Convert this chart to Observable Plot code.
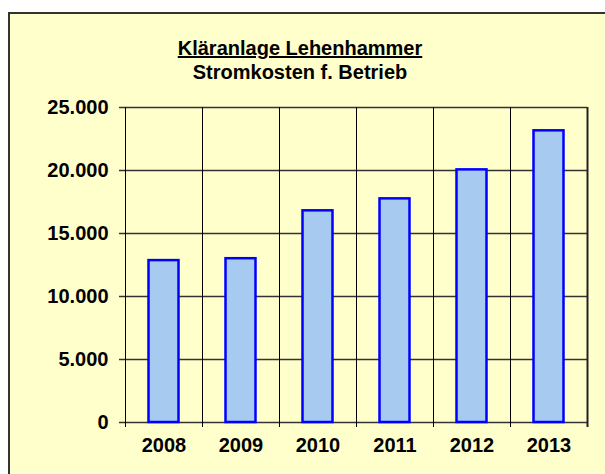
<!DOCTYPE html>
<html>
<head>
<meta charset="utf-8">
<script src="https://cdn.jsdelivr.net/npm/d3@7"></script>
<script src="https://cdn.jsdelivr.net/npm/@observablehq/plot@0.6"></script>
<style>
  html, body { margin: 0; padding: 0; background: #ffffff; }
  #wrap { position: relative; width: 605px; height: 474px; overflow: hidden; font-family: "Liberation Sans", Arial, sans-serif; }
  #panel { position: absolute; left: 8px; top: 12px; width: 640px; height: 500px; background: #FFFFCC; border-left: 2px solid #333; border-top: 2px solid #333; }
  #title { position: absolute; left: 0; width: 600px; top: 36px; text-align: center; font-weight: bold; font-size: 20px; line-height: 24px; color: #000; }
  #title .l1 { text-decoration: underline; }
  #chart { position: absolute; left: 0; top: 0; }
</style>
</head>
<body>
<div id="wrap">
  <div id="panel"></div>
  <div id="title"><div class="l1">Kläranlage Lehenhammer</div><div>Stromkosten f. Betrieb</div></div>
  <div id="chart"></div>
</div>
<script>
const years = ["2008", "2009", "2010", "2011", "2012", "2013"];
const costs = [12850, 13000, 16800, 17750, 20050, 23150];
const yTicks = [0, 5000, 10000, 15000, 20000, 25000];

const data = years.map((y, i) => ({year: y, cost: costs[i]}));
const de = d3.formatLocale({decimal: ",", thousands: ".", grouping: [3], currency: ["", " €"]});
const fmt = de.format(",d");

const W = 605, H = 474, mL = 125, mR = 18, mT = 107, mB = 52;
const step = (W - mL - mR) / years.length;

const chart = Plot.plot({
  width: W,
  height: H,
  marginLeft: mL,
  marginRight: mR,
  marginTop: mT,
  marginBottom: mB,
  style: {background: "transparent", fontFamily: "'Liberation Sans', Arial, sans-serif", fontSize: "20px", fontWeight: "bold", color: "#000", overflow: "visible"},
  x: {domain: years, padding: 0, label: null},
  y: {domain: [0, 25000], label: null},
  marks: [
    Plot.ruleY(yTicks, {y: d => d, stroke: "#333", strokeWidth: 1.3, insetLeft: -6}),
    Plot.tickX(years, {x: d => d, dx: -step / 2, stroke: "#000", strokeWidth: 1, insetBottom: -5}),
    Plot.tickX(years.slice(-1), {x: d => d, dx: step / 2, stroke: "#222", strokeWidth: 2, insetBottom: -5}),
    Plot.barY(data, {x: "year", y: "cost", fill: "#A6CAF0", stroke: "#0000FF", strokeWidth: 2.5, insetLeft: 23.5, insetRight: 23.5}),
    Plot.axisY(yTicks, {tickSize: 0, tickPadding: 17, tickFormat: fmt, fontSize: 20, fontWeight: "bold", label: null}),
    Plot.axisX({tickSize: 0, tickPadding: 15, fontSize: 20, fontWeight: "bold", label: null})
  ]
});
document.getElementById("chart").appendChild(chart);
</script>
</body>
</html>
